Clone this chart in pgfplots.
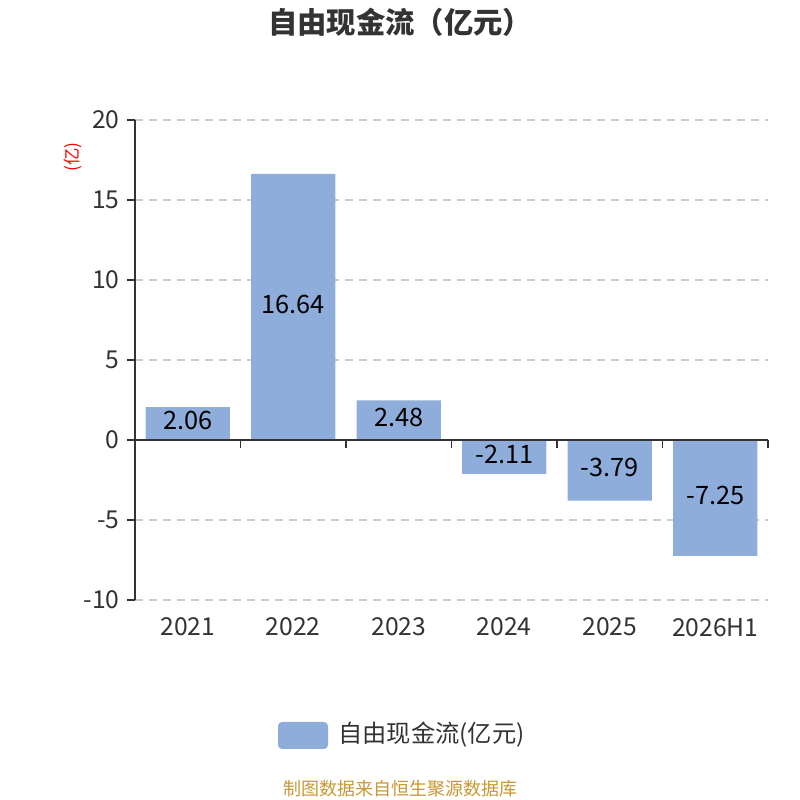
\documentclass[border=0pt]{standalone}
\usepackage{pgfplots}
\pgfplotsset{compat=1.18}
\usepackage{pgfplotstable}
\usepackage{fontspec}
\setmainfont{Noto Sans CJK SC}
\definecolor{barc}{RGB}{143,173,218}
\definecolor{txt}{RGB}{51,51,51}
\definecolor{gridc}{RGB}{204,204,204}
\definecolor{foot}{RGB}{200,150,50}
\pgfplotstableread{
x y
0 2.06
1 16.64
2 2.48
3 -2.11
4 -3.79
5 -7.25
}\datatab
\pgfplotstableread{
x h lab
0 1.03 2.06
1 8.32 16.64
2 1.24 2.48
3 -1.055 -2.11
4 -1.895 -3.79
5 -3.625 -7.25
}\labtab
\begin{document}
\begin{tikzpicture}
\useasboundingbox (0,0) rectangle (600pt,600pt);
\begin{axis}[
  at={(101.25pt,150pt)}, anchor=south west,
  scale only axis, width=474.75pt, height=360pt,
  xmin=-0.5, xmax=5.5, ymin=-10, ymax=20,
  ytick={-10,-5,0,5,10,15,20},
  xtick={0,1,2,3,4,5},
  xticklabels={2021,2022,2023,2024,2025,2026H1},
  axis y line=left, axis x line=bottom,
  x axis line style={draw=none},
  y axis line style={txt, line width=1.1pt, -},
  xtick style={draw=none},
  ytick style={txt, line width=1.1pt},
  tick align=outside, major tick length=6pt,
  ymajorgrids, grid style={gridc, line width=0.8pt, dash pattern=on 6pt off 4.5pt},
  /pgf/number format/assume math mode=true,
  ticklabel style={font=\fontsize{18.5}{21}\selectfont, text=txt},
  xticklabel style={yshift=-4pt},
  yticklabel style={xshift=-2pt},
  clip=false,
]
\addplot[ybar, bar width=0.8, fill=barc, draw=none] table[x=x,y=y]{\datatab};
\addplot[draw=none, mark=none, nodes near coords, point meta=explicit symbolic,
  every node near coord/.style={font=\fontsize{19}{22}\selectfont, text=black, anchor=center, yshift=2pt}]
  table[x=x,y=h,meta=lab]{\labtab};
\draw[txt, line width=1.1pt] (axis cs:-0.5,0) -- (axis cs:5.5,0);
\pgfplotsinvokeforeach{-0.5,0.5,1.5,2.5,3.5,4.5,5.5}{
  \draw[txt, line width=1.1pt] (axis cs:#1,0) -- ([yshift=-6pt]axis cs:#1,0);
}
\end{axis}
\node[font=\bfseries\fontsize{22}{26}\selectfont, text=txt] at (300pt,583.5pt) {自由现金流（亿元）};
\node[font=\fontsize{13}{15}\selectfont, text=red, rotate=90] at (54.75pt,482.25pt) {(亿)};
\fill[barc, rounded corners=3pt] (208.5pt,38.25pt) rectangle (246pt,58.5pt);
\node[font=\fontsize{18.2}{21}\selectfont, text=txt, anchor=west, inner sep=0pt] at (253.5pt,48.75pt) {自由现金流(亿元)};
\node[font=\fontsize{13.5}{16}\selectfont, text=foot] at (300pt,8.25pt) {制图数据来自恒生聚源数据库};
\end{tikzpicture}
\end{document}
